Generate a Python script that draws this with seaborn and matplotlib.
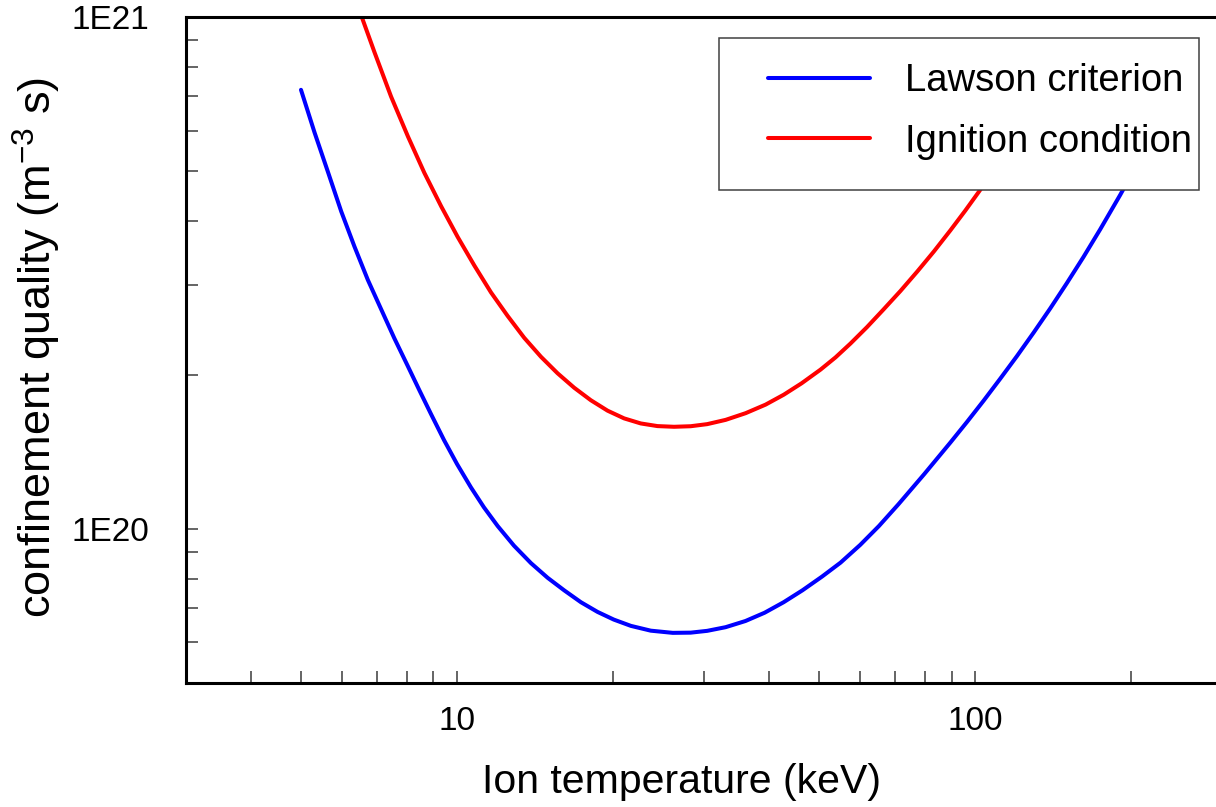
import numpy as np
import pandas as pd
import matplotlib
matplotlib.use("Agg")
import matplotlib.pyplot as plt
import seaborn as sns
from matplotlib.ticker import FixedLocator, FixedFormatter, NullFormatter, LogLocator
from matplotlib.patches import Rectangle

# ---- data ----
lawson_T = [5.0, 5.31, 5.64, 5.98, 6.34, 6.73, 7.14, 7.57, 8.04, 8.46, 8.91, 9.44, 10.0,
            10.64, 11.27, 11.98, 12.88, 13.89, 14.96, 16.10, 17.34, 18.67, 20.07, 21.65,
            23.65, 26.08, 28.24, 30.39, 32.98, 36.02, 39.22, 42.68, 46.42, 50.61, 54.95,
            59.98, 65.17, 71.06, 79.73, 89.48, 96.38, 103.75, 111.7, 120.3, 129.5, 139.5,
            150.2, 161.7, 174.1, 190.3, 199.8]
lawson_ntau = [7.207e20, 5.95e20, 4.971e20, 4.168e20, 3.562e20, 3.064e20, 2.685e20,
               2.357e20, 2.078e20, 1.866e20, 1.676e20, 1.491e20, 1.339e20, 1.205e20,
               1.102e20, 1.013e20, 9.273e19, 8.573e19, 8.025e19, 7.585e19, 7.191e19,
               6.884e19, 6.650e19, 6.465e19, 6.327e19, 6.265e19, 6.271e19, 6.322e19,
               6.427e19, 6.608e19, 6.859e19, 7.191e19, 7.589e19, 8.069e19, 8.592e19,
               9.307e19, 1.013e20, 1.117e20, 1.280e20, 1.474e20, 1.618e20, 1.780e20,
               1.965e20, 2.175e20, 2.416e20, 2.696e20, 3.021e20, 3.398e20, 3.845e20,
               4.490e20, 4.908e20]

ignition_T = [6.25, 6.55, 6.93, 7.46, 8.04, 8.65, 9.32, 10.03, 10.80, 11.63, 12.52, 13.48,
              14.52, 15.63, 16.83, 18.12, 19.52, 21.01, 22.62, 24.36, 26.23, 28.24, 30.39,
              32.98, 36.05, 39.39, 42.71, 46.22, 50.27, 53.74, 57.43, 61.79, 66.48, 71.69,
              77.30, 83.19, 89.48, 95.66, 101.8, 111.7, 122.1, 133.4, 145.8]
ignition_ntau = [1.149e21, 1.0e21, 8.537e20, 6.993e20, 5.845e20, 4.960e20, 4.268e20,
                 3.718e20, 3.270e20, 2.897e20, 2.607e20, 2.362e20, 2.169e20, 2.014e20,
                 1.887e20, 1.784e20, 1.702e20, 1.644e20, 1.607e20, 1.588e20, 1.583e20,
                 1.587e20, 1.602e20, 1.633e20, 1.683e20, 1.749e20, 1.829e20, 1.925e20,
                 2.047e20, 2.163e20, 2.302e20, 2.478e20, 2.682e20, 2.915e20, 3.184e20,
                 3.483e20, 3.828e20, 4.187e20, 4.569e20, 5.238e20, 5.993e20, 6.880e20,
                 7.923e20]

series_names = ["Lawson criterion", "Ignition condition"]
series_colors = ["#0000ff", "#ff0000"]

x_ticks = [10, 100]
x_tick_labels = ["10", "100"]
y_ticks = [1e20, 1e21]
y_tick_labels = ["1E20", "1E21"]

x_label = "Ion temperature (keV)"
y_label = "confinement quality (m$^{-3}$ s)"

# ---- build tidy frame ----
df = pd.concat([
    pd.DataFrame({"T": lawson_T, "ntau": lawson_ntau, "series": series_names[0]}),
    pd.DataFrame({"T": ignition_T, "ntau": ignition_ntau, "series": series_names[1]}),
], ignore_index=True)

sns.set_style("ticks")
plt.rcParams["font.family"] = ["Liberation Sans", "DejaVu Sans"]
plt.rcParams["mathtext.fontset"] = "custom"
plt.rcParams["mathtext.rm"] = "Liberation Sans"
plt.rcParams["mathtext.it"] = "Liberation Sans:italic"
plt.rcParams["mathtext.bf"] = "Liberation Sans:bold"
plt.rcParams["mathtext.default"] = "regular"
plt.rcParams["text.color"] = "black"
plt.rcParams["axes.labelcolor"] = "black"

W, H = 1216, 807
fig = plt.figure(figsize=(W / 100, H / 100), dpi=100)
ax_left, ax_right, ax_top, ax_bottom = 186, 1222.6, 17, 683
axw, axh = ax_right - ax_left, ax_bottom - ax_top
ax = fig.add_axes([ax_left / W, (H - ax_bottom) / H, axw / W, axh / H])


def px_to_axes(px, py):
    return (px - ax_left) / axw, 1 - (py - ax_top) / axh


sns.lineplot(data=df, x="T", y="ntau", hue="series", hue_order=series_names,
             palette=dict(zip(series_names, series_colors)), linewidth=2.9,
             estimator=None, sort=False, ax=ax)

ax.set_xscale("log")
ax.set_yscale("log")
ax.set_xlim(3, 300)
ax.set_ylim(5e19, 1e21)

ax.xaxis.set_major_locator(FixedLocator(x_ticks))
ax.xaxis.set_major_formatter(FixedFormatter(x_tick_labels))
ax.yaxis.set_major_locator(FixedLocator(y_ticks))
ax.yaxis.set_major_formatter(FixedFormatter(y_tick_labels))
ax.xaxis.set_minor_locator(LogLocator(base=10, subs=np.arange(2, 10)))
ax.yaxis.set_minor_locator(LogLocator(base=10, subs=np.arange(2, 10)))
ax.xaxis.set_minor_formatter(NullFormatter())
ax.yaxis.set_minor_formatter(NullFormatter())

ax.tick_params(which="both", direction="in", length=8.6, width=1.1, color="#3a3a3a",
               top=False, right=False, labelsize=24, labelcolor="black")
ax.tick_params(axis="x", which="both", pad=16.5)
ax.tick_params(axis="y", which="both", pad=26.7)

for side in ["left", "bottom", "top", "right"]:
    ax.spines[side].set_linewidth(2.2)
    ax.spines[side].set_color("black")

ax.set_xlabel(x_label, fontsize=29.5, color="black")
ax.set_ylabel(y_label, fontsize=32.5, color="black")
ax.xaxis.set_label_coords(*px_to_axes(682, 763))
ax.yaxis.set_label_coords(*px_to_axes(63, 348))

# legend frame (opaque box hiding the curves behind it)
fx0, fy1 = px_to_axes(719, 38)
fx1, fy0 = px_to_axes(1199, 190)
ax.add_patch(Rectangle((fx0, fy0), fx1 - fx0, fy1 - fy0, transform=ax.transAxes,
                       facecolor="white", edgecolor="#404040", linewidth=1.1, zorder=4))

handles, labels = ax.get_legend_handles_labels()
pairs = [(h, l) for h, l in zip(handles, labels) if l in series_names]
handles = [p[0] for p in pairs]
labels = [p[1] for p in pairs]
for h in handles:
    h.set_linewidth(2.9)
fs_px = 27.5 * 100 / 72
bp = 0.2
leg = ax.legend(handles, labels, loc="upper left",
                bbox_to_anchor=px_to_axes(768 - bp * fs_px, 63 - bp * fs_px),
                borderaxespad=0, fontsize=27.5, frameon=False, borderpad=bp,
                handlelength=102 / fs_px, handletextpad=(905 - 870) / fs_px,
                labelspacing=0.65, labelcolor="black")
leg.set_zorder(5)

fig.savefig("out.png", dpi=100)
